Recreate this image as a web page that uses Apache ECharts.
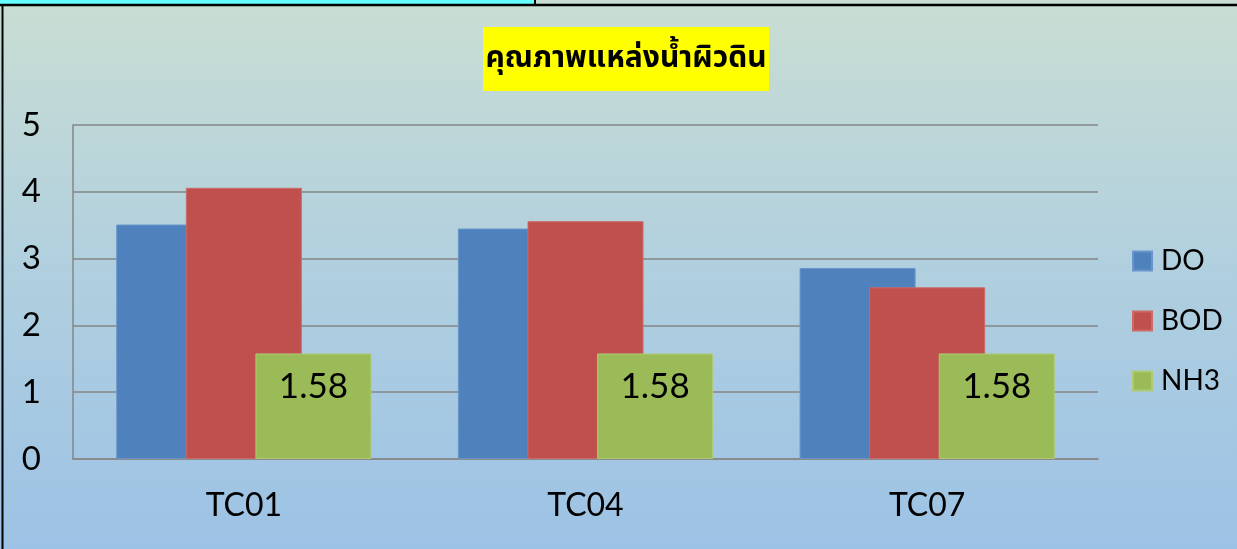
<!DOCTYPE html>
<html>
<head>
<meta charset="utf-8">
<script src="https://cdn.jsdelivr.net/npm/echarts@6/dist/echarts.min.js"></script>
<style>
html,body{margin:0;padding:0;background:#fff;}
#chart{width:1237px;height:549px;}
</style>
</head>
<body>
<div id="chart"></div>
<script>
const titleText = 'คุณภาพแหล่งน้ำผิวดิน';
const categories = ['TC01', 'TC04', 'TC07'];
const seriesNames = ['DO', 'BOD', 'NH3'];
const doValues = [3.51, 3.45, 2.86];
const bodValues = [4.06, 3.56, 2.57];
const nh3Values = [1.58, 1.58, 1.58];
const yTicks = [0, 1, 2, 3, 4, 5];

const chart = echarts.init(document.getElementById('chart'));
const fontFam = 'Lato, "Liberation Sans", sans-serif';
const thaiFam = '"Noto Sans Thai", "Noto Sans", "DejaVu Sans", sans-serif';

const option = {
  animation: false,
  backgroundColor: {
    type: 'linear', x: 0, y: 0, x2: 0, y2: 1,
    colorStops: [
      { offset: 0, color: '#C9DED3' },
      { offset: 0.5, color: '#B0CFDF' },
      { offset: 1, color: '#9CC2E5' }
    ]
  },
  graphic: [
    { type: 'rect', shape: { x: 0, y: 0, width: 535, height: 5 }, style: { fill: '#66FFFF' }, z: 100 },
    { type: 'line', shape: { x1: 0, y1: 5, x2: 1237, y2: 5 }, style: { stroke: '#000', lineWidth: 2.5 }, z: 101 },
    { type: 'line', shape: { x1: 535, y1: 0, x2: 535, y2: 6 }, style: { stroke: '#000', lineWidth: 2 }, z: 101 },
    { type: 'line', shape: { x1: 2.5, y1: 5, x2: 2.5, y2: 549 }, style: { stroke: '#000', lineWidth: 2 }, z: 101 },
    { type: 'rect', shape: { x: 483, y: 27, width: 286, height: 64 }, style: { fill: '#FFFF00' }, z: 100 },
    { type: 'text', x: 626, y: 61, z: 101,
      style: { text: titleText, textAlign: 'center', textVerticalAlign: 'middle',
               font: 'bold 30px ' + thaiFam, fill: '#000' } }
  ],
  legend: {
    orient: 'vertical',
    left: 1132,
    top: 247,
    padding: 0,
    itemWidth: 19,
    itemHeight: 19,
    itemGap: 32,
    icon: 'rect',
    data: seriesNames,
    textStyle: { fontFamily: fontFam, fontSize: 28, lineHeight: 27, color: '#000', padding: [0, 0, 0, 4] }
  },
  grid: { left: 73, right: 139, top: 125, bottom: 90, containLabel: false },
  xAxis: {
    type: 'category',
    data: categories,
    axisLine: { show: true, lineStyle: { color: '#868686', width: 1.5 } },
    axisTick: { show: false },
    axisLabel: { margin: 31, fontFamily: fontFam, fontSize: 32, color: '#000' }
  },
  yAxis: {
    type: 'value',
    min: 0, max: 5, interval: 1,
    axisLine: { show: true, lineStyle: { color: '#868686', width: 1.5 } },
    axisTick: { show: false },
    splitLine: { show: true, lineStyle: { color: '#868686', width: 1.5 } },
    axisLabel: { margin: 32, fontFamily: fontFam, fontSize: 33, color: '#000',
                 formatter: v => yTicks.includes(v) ? String(v) : '' }
  },
  series: [
    { name: seriesNames[0], type: 'bar', data: doValues, barWidth: 116, barGap: '-40%',
      itemStyle: { color: '#4F81BD', borderColor: '#6A95CA', borderWidth: 1 } },
    { name: seriesNames[1], type: 'bar', data: bodValues, barWidth: 116, barGap: '-40%',
      itemStyle: { color: '#C0504D', borderColor: '#CC6A67', borderWidth: 1 } },
    { name: seriesNames[2], type: 'bar', data: nh3Values, barWidth: 116, barGap: '-40%',
      itemStyle: { color: '#9BBB59', borderColor: '#AECB74', borderWidth: 1 },
      label: { show: true, position: 'insideTop', distance: 16,
               fontFamily: fontFam, fontSize: 35, color: '#000',
               formatter: p => p.value.toFixed(2) } }
  ]
};
chart.setOption(option);
</script>
</body>
</html>
